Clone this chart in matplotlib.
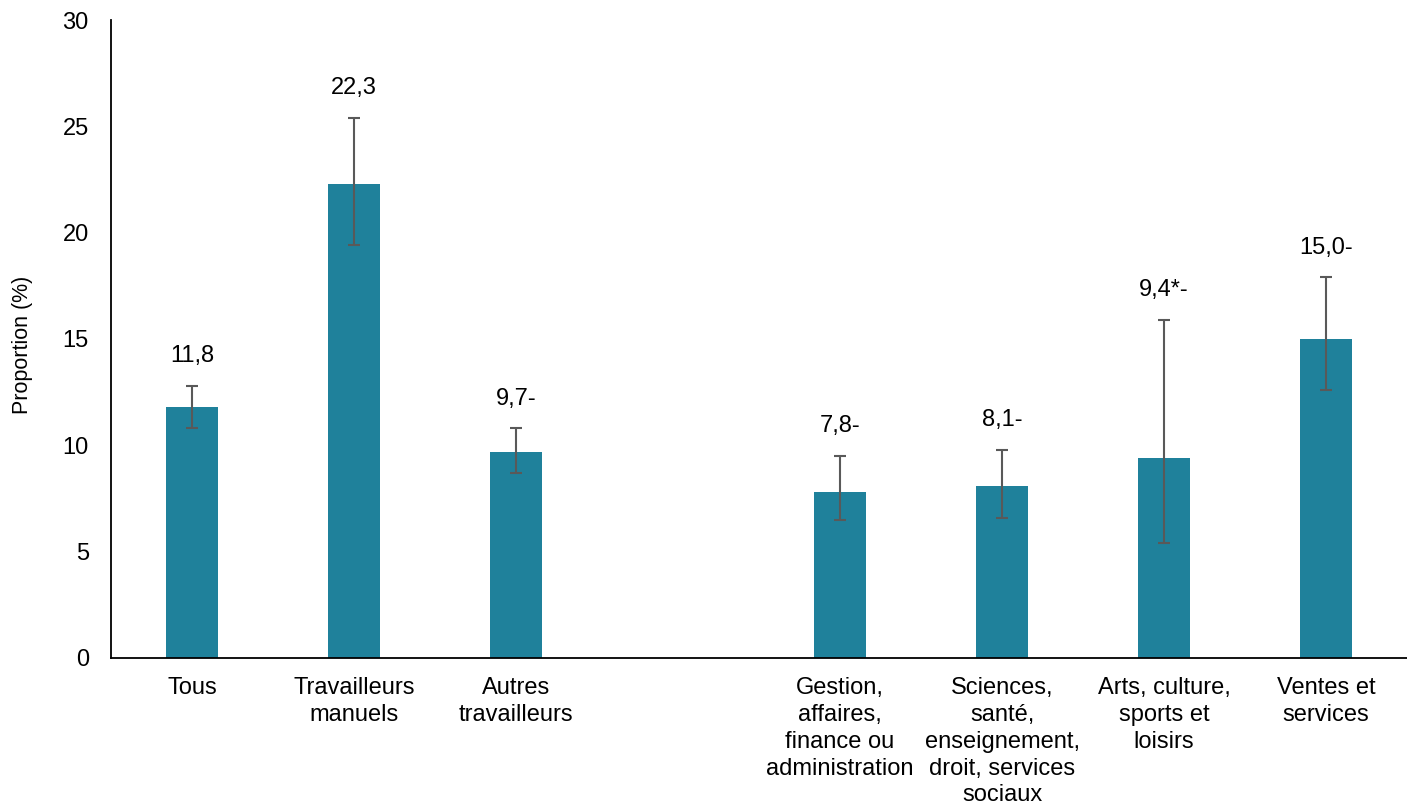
import matplotlib.pyplot as plt
import numpy as np

plt.rcParams["font.family"] = ["Liberation Sans", "DejaVu Sans"]

categories = [
    "Tous",
    "Travailleurs\nmanuels",
    "Autres\ntravailleurs",
    "",
    "Gestion,\naffaires,\nfinance ou\nadministration",
    "Sciences,\nsanté,\nenseignement,\ndroit, services\nsociaux",
    "Arts, culture,\nsports et\nloisirs",
    "Ventes et\nservices",
]
values = [11.8, 22.3, 9.7, np.nan, 7.8, 8.1, 9.4, 15.0]
ci_low = [10.8, 19.4, 8.7, np.nan, 6.5, 6.6, 5.4, 12.6]
ci_high = [12.8, 25.4, 10.8, np.nan, 9.5, 9.8, 15.9, 17.9]
value_labels = ["11,8", "22,3", "9,7-", "", "7,8-", "8,1-", "9,4*-", "15,0-"]

BAR_COLOR = "#1f819b"
ERR_COLOR = "#595959"
FS = 17

fig = plt.figure(figsize=(14.07, 8.10), dpi=100)
ax = fig.add_axes([0.0789, 0.1877, 0.9211, 0.7876])

x = np.arange(len(categories))
vals = np.array(values)
lo = vals - np.array(ci_low)
hi = np.array(ci_high) - vals

ax.bar(x, vals, width=0.315, color=BAR_COLOR, zorder=2)
ax.errorbar(x, vals, yerr=[lo, hi], fmt="none", ecolor=ERR_COLOR,
            elinewidth=1.5, capsize=4.3, capthick=1.5, zorder=3)

for xi, top, lab in zip(x, ci_high, value_labels):
    if lab:
        ax.text(xi, top + 1.4, lab, ha="center", va="center", fontsize=FS)

ax.set_xlim(-0.5, len(categories) - 0.5)
ax.set_ylim(0, 30)
ax.set_yticks(np.arange(0, 31, 5))
ax.set_xticks(x)
ax.set_xticklabels(categories, fontsize=FS, linespacing=1.28)
ax.tick_params(axis="y", length=0, pad=16, labelsize=FS)
ax.tick_params(axis="x", length=0, pad=14)
ax.set_ylabel("Proportion (%)", fontsize=15.5)
ax.yaxis.set_label_coords(-0.0602, 0.49)

for side in ["top", "right"]:
    ax.spines[side].set_visible(False)
ax.spines["left"].set_linewidth(1.3)
ax.spines["bottom"].set_linewidth(1.3)

fig.savefig("out.png", dpi=100)
